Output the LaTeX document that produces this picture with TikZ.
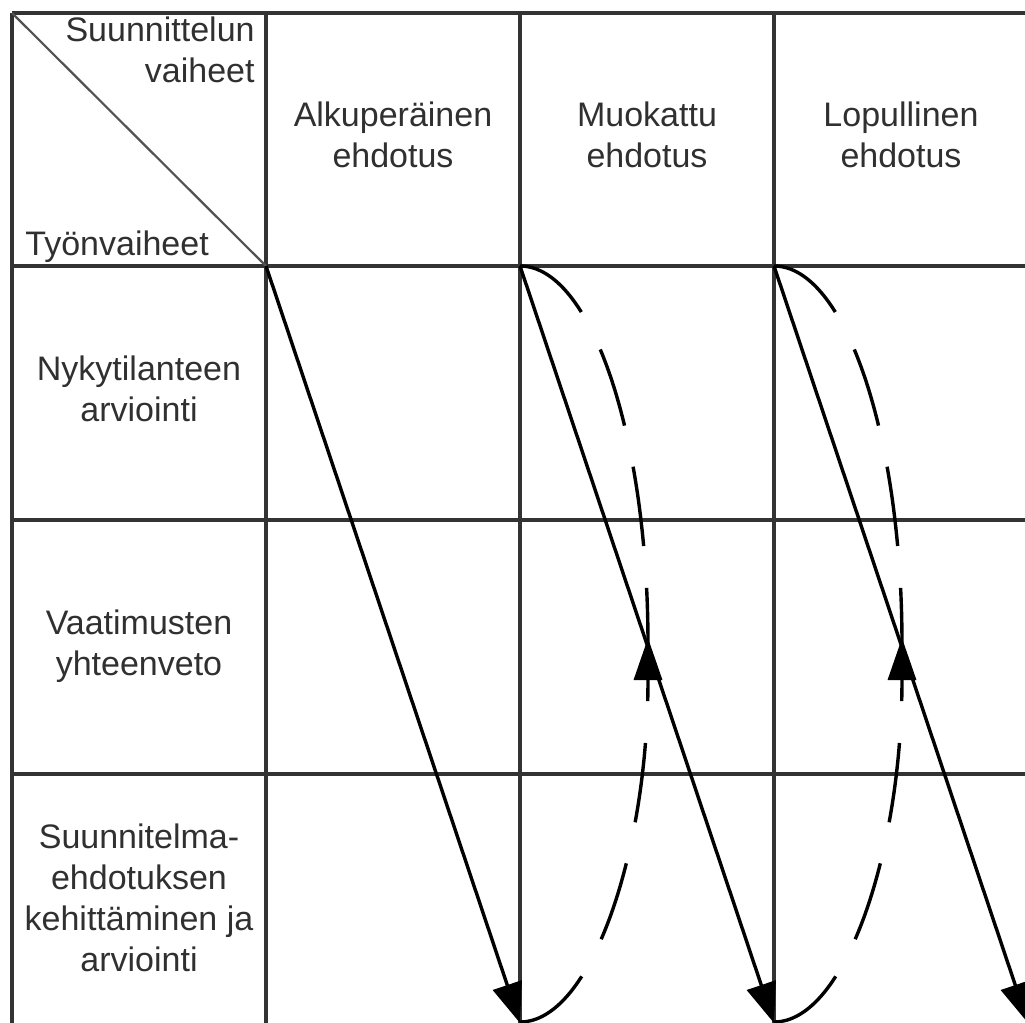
\documentclass[tikz,border=0pt]{standalone}
\usepackage{fontspec}
\setmainfont{Liberation Sans}
\usetikzlibrary{arrows.meta}
\definecolor{gridcol}{HTML}{333333}
\definecolor{txtcol}{HTML}{303030}
\tikzset{
  gridline/.style={draw=gridcol, line width=1.6pt},
  diagline/.style={draw=gridcol!85, line width=1.1pt},
  lbl/.style={inner sep=0pt, text=txtcol, align=center, font=\fontsize{17pt}{20.5pt}\selectfont},
  flow/.style={draw=black, line width=1.7pt, -{Triangle[length=20pt,width=15pt]}},
  backflow/.style={draw=black, line width=1.7pt, dash pattern=on 40pt off 21pt},
  backflowhead/.style={backflow, -{Triangle[length=21pt,width=14pt]}}
}
\begin{document}
\begin{tikzpicture}[x=0.5pt, y=-0.5pt]
\useasboundingbox (0,0) rectangle (1025,1023);
\clip (0,0) rectangle (1025,1023);
% grid coordinates
\coordinate (TL) at (12,13);
\coordinate (TR) at (1025,13);
\coordinate (C1) at (266,266);
\coordinate (C2) at (520,266);
\coordinate (C3) at (774,266);
\coordinate (R1L) at (12,266);
\coordinate (R1R) at (1025,266);
\coordinate (R2L) at (12,520);
\coordinate (R2R) at (1025,520);
\coordinate (R3L) at (12,774);
\coordinate (R3R) at (1025,774);
\coordinate (V0T) at (12,13);
\coordinate (V0B) at (12,1023);
\coordinate (V1T) at (266,13);
\coordinate (V1B) at (266,1023);
\coordinate (V2T) at (520,13);
\coordinate (V2B) at (520,1023);
\coordinate (V3T) at (774,13);
\coordinate (V3B) at (774,1023);
% grid
\draw[gridline] (TL) -- (TR);
\draw[gridline] (R1L) -- (R1R);
\draw[gridline] (R2L) -- (R2R);
\draw[gridline] (R3L) -- (R3R);
\draw[gridline] (V0T) -- (V0B);
\draw[gridline] (V1T) -- (V1B);
\draw[gridline] (V2T) -- (V2B);
\draw[gridline] (V3T) -- (V3B);
\draw[diagline] (TL) -- (C1);
% labels
\node[lbl, align=right, anchor=east] (sv) at (255,49.5) {Suunnittelun\\vaiheet};
\node[lbl, anchor=base west] (tv) at (25,255) {Työnvaiheet};
\node[lbl] (h1) at (393,135) {Alkuperäinen\\ehdotus};
\node[lbl] (h2) at (647,135) {Muokattu\\ehdotus};
\node[lbl] (h3) at (901,135) {Lopullinen\\ehdotus};
\node[lbl] (r1) at (139,388.5) {Nykytilanteen\\arviointi};
\node[lbl] (r2) at (139,646) {Vaatimusten\\yhteenveto};
\node[lbl] (r3) at (139,897.5) {Suunnitelma-\\ehdotuksen\\kehittäminen ja\\arviointi};
% solid flow arrows
\coordinate (E1) at (520,1023);
\coordinate (E2) at (774,1023);
\coordinate (E3) at (1028,1023);
\draw[flow] (C1) -- (E1);
\draw[flow] (C2) -- (E2);
\draw[flow] (C3) -- (E3);
% dashed feedback loops
\coordinate (B2) at (520,1022);
\coordinate (M2) at (648,644);
\coordinate (T2) at (648,638);
\draw[backflow] (C2) .. controls (590.7,266) and (648,435) .. (M2);
\draw[backflowhead] (B2) .. controls (590.7,1022) and (648,853) .. (T2);
\coordinate (B3) at (774,1022);
\coordinate (M3) at (902,644);
\coordinate (T3) at (902,638);
\draw[backflow] (C3) .. controls (844.7,266) and (902,435) .. (M3);
\draw[backflowhead] (B3) .. controls (844.7,1022) and (902,853) .. (T3);
\end{tikzpicture}
\end{document}
